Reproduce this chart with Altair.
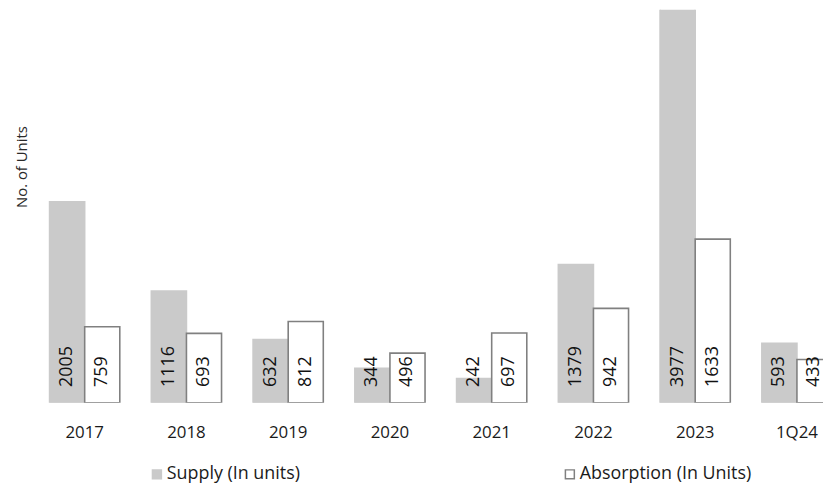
import altair as alt
import pandas as pd

periods = ["2017", "2018", "2019", "2020", "2021", "2022", "2023", "1Q24"]
supply = [2005, 1116, 632, 344, 242, 1379, 3977, 593]
absorption = [759, 693, 812, 496, 697, 942, 1633, 433]
series_names = ["Supply (In units)", "Absorption (In Units)"]

rows = []
for p, s, a in zip(periods, supply, absorption):
    rows.append({"period": p, "series": series_names[0], "value": s})
    rows.append({"period": p, "series": series_names[1], "value": a})
df = pd.DataFrame(rows)

FONT = "Open Sans"

x_enc = alt.X(
    "period:N",
    sort=periods,
    scale=alt.Scale(range=[0, 820], paddingInner=0.31, paddingOuter=0.155),
    axis=alt.Axis(
        title=None, labelAngle=0, ticks=False, domain=False, grid=False,
        labelFontSize=17, labelFont=FONT, labelColor="#1a1a1a", labelPadding=22,
    ),
)
xoff = alt.XOffset("series:N", sort=series_names,
                   scale=alt.Scale(paddingInner=0, paddingOuter=0))
y_scale = alt.Scale(domain=[0, 3920], nice=False, zero=True)

bars = alt.Chart(df).mark_bar(clip=True, strokeWidth=1.6).encode(
    x=x_enc,
    xOffset=xoff,
    y=alt.Y(
        "value:Q", scale=y_scale,
        axis=alt.Axis(
            title="No. of Units", labels=False, ticks=False, domain=False, grid=False,
            titleFont=FONT, titleFontSize=15, titleFontWeight="normal", titleColor="#2a2a2a",
            titleX=-12, titleY=158, titleBaseline="middle", titleAngle=270,
        ),
    ),
    fill=alt.Fill(
        "series:N",
        scale=alt.Scale(domain=series_names, range=["#cacaca", "#ffffff"]),
        legend=alt.Legend(title=None),
    ),
    stroke=alt.Stroke(
        "series:N",
        scale=alt.Scale(domain=series_names, range=["#cacaca", "#808080"]),
        legend=alt.Legend(title=None),
    ),
)

labels = alt.Chart(df).mark_text(
    clip=True, angle=270, align="left", baseline="middle", dx=16,
    fontSize=18, font=FONT, color="#111",
).encode(
    x=x_enc,
    xOffset=xoff,
    y=alt.datum(0, scale=y_scale),
    text=alt.Text("value:Q", format="d"),
)

chart = alt.layer(bars, labels).properties(
    width=795, height=396,
    autosize=alt.AutoSizeParams(type="none"),
    padding={"left": 26, "top": 0, "right": 0, "bottom": 85},
).configure_view(stroke=None).configure_legend(
    orient="none", legendX=115, legendY=459, direction="horizontal",
    symbolType="square", symbolSize=81, symbolStrokeWidth=1.5,
    labelFont=FONT, labelFontSize=18, labelColor="#1a1a1a", labelOffset=1,
    labelLimit=400, columnPadding=262,
)

chart.save("out.html", embed_options={"renderer": "svg", "actions": False})
